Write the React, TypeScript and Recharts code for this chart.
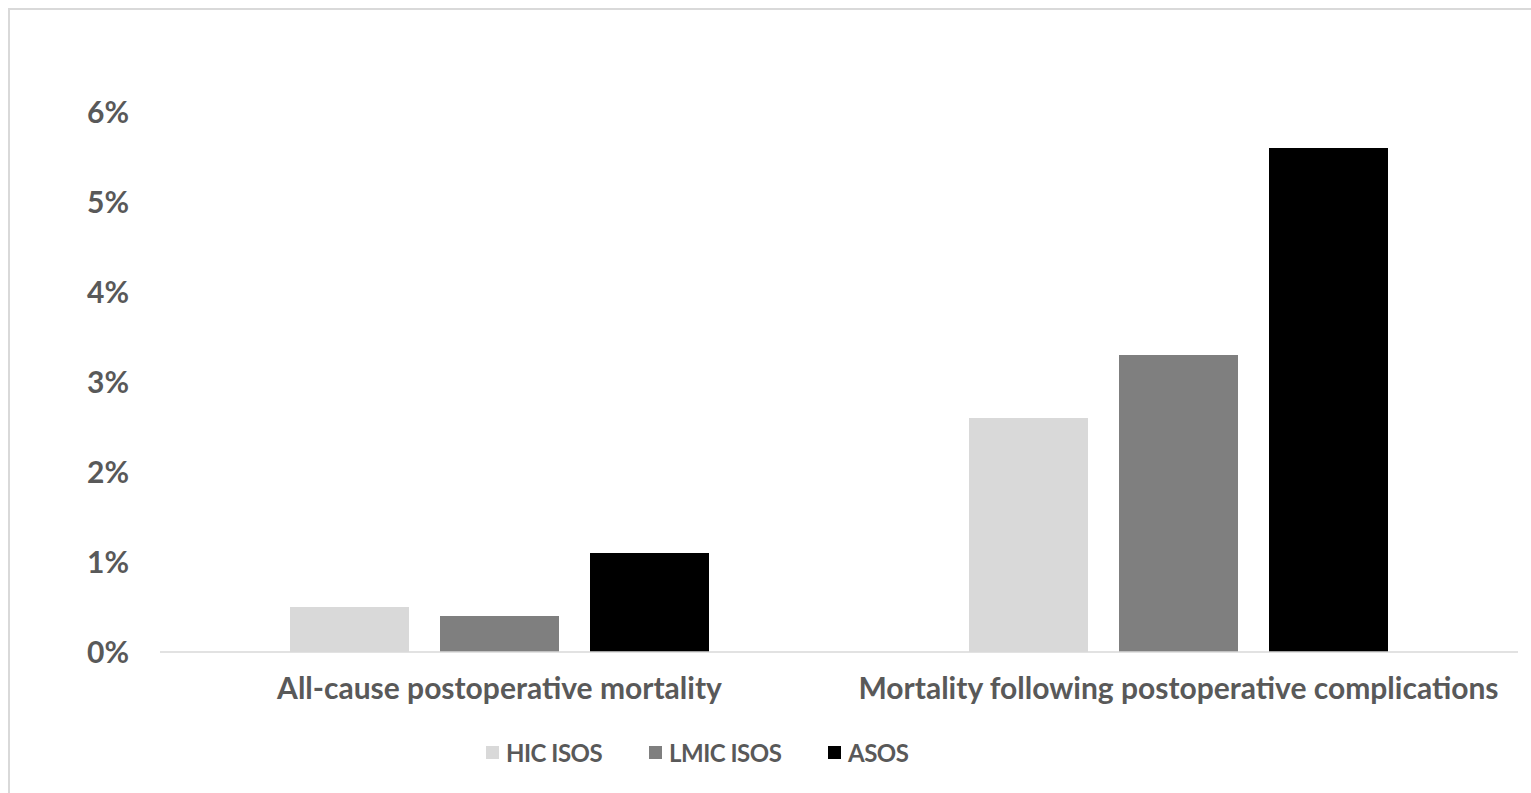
import { BarChart, Bar, XAxis, YAxis, Legend } from 'recharts'

const categories = [
  'All-cause postoperative mortality',
  'Mortality following postoperative complications',
]
const hicIsos = [0.5, 2.6]
const lmicIsos = [0.4, 3.3]
const asos = [1.1, 5.6]
const yTicks = [0, 1, 2, 3, 4, 5, 6]

const seriesKeys = ['hic', 'lmic', 'asos'] as const
const seriesNames = { hic: 'HIC ISOS', lmic: 'LMIC ISOS', asos: 'ASOS' }
const seriesColors = { hic: '#d9d9d9', lmic: '#7f7f7f', asos: '#000000' }

const data = categories.map((name, i) => ({
  name,
  hic: hicIsos[i],
  lmic: lmicIsos[i],
  asos: asos[i],
}))

const FONT = 'Lato, "Noto Sans", sans-serif'
const TEXT = '#595959'
const legendItemWidth = { hic: 163, lmic: 179, asos: 90 }

// keep legend in series order (recharts sorts payload by default)
function ChartLegend() {
  return (
    <div style={{ display: 'flex', height: 30, alignItems: 'center', fontFamily: FONT }}>
      {seriesKeys.map((k) => (
        <div key={k} style={{ display: 'flex', alignItems: 'center', width: legendItemWidth[k] }}>
          <span style={{ width: 13, height: 13, background: seriesColors[k], marginRight: 7 }} />
          <span style={{ fontSize: 24, fontWeight: 700, color: TEXT, letterSpacing: -0.5 }}>
            {seriesNames[k]}
          </span>
        </div>
      ))}
    </div>
  )
}

export default function App() {
  return (
    <>
      <style>{'body{margin:0;overflow:hidden}'}</style>
      <div
        style={{
          margin: '8px 0 0 8px',
          width: 1523,
          height: 785,
          boxSizing: 'border-box',
          borderTop: '2px solid #d9d9d9',
          borderLeft: '2px solid #d9d9d9',
          background: '#fff',
        }}
      >
        <BarChart
          width={1513}
          height={775}
          data={data}
          margin={{ top: 102, right: 5, bottom: 18, left: 0 }}
          barSize={119}
          barGap={31}
        >
          <XAxis
            dataKey="name"
            axisLine={{ stroke: '#d9d9d9', strokeWidth: 1.5 }}
            tickLine={false}
            height={85}
            tickMargin={20}
            tick={{ fill: TEXT, fontSize: 30, fontWeight: 700, fontFamily: FONT }}
            interval={0}
          />
          <YAxis
            domain={[0, 6]}
            ticks={yTicks}
            axisLine={false}
            tickLine={false}
            width={150}
            tickMargin={25}
            tickFormatter={(v) => `${v}%`}
            tick={{ fill: TEXT, fontSize: 30, fontWeight: 700, fontFamily: FONT }}
          />
          <Legend
            verticalAlign="bottom"
            content={<ChartLegend />}
            wrapperStyle={{ left: 476, width: 'auto', bottom: 18 }}
          />
          <Bar dataKey="hic" name={seriesNames.hic} fill={seriesColors.hic} isAnimationActive={false} />
          <Bar dataKey="lmic" name={seriesNames.lmic} fill={seriesColors.lmic} isAnimationActive={false} />
          <Bar dataKey="asos" name={seriesNames.asos} fill={seriesColors.asos} isAnimationActive={false} />
        </BarChart>
      </div>
    </>
  )
}
